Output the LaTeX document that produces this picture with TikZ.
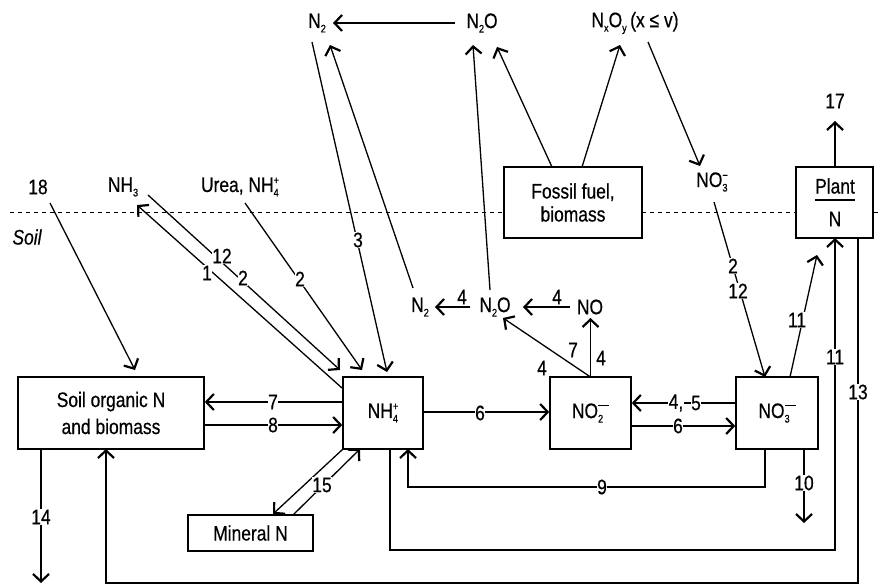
\documentclass[tikz,border=0pt]{standalone}
\usepackage{fontspec}
\setmainfont{Liberation Sans}[FakeStretch=0.83,FakeBold=0.5]
\usetikzlibrary{arrows.meta}
\newcommand\lo[1]{\raisebox{-4.5pt}{\fontsize{11}{11}\selectfont #1}}
\newcommand\hi[1]{\raisebox{8pt}{\fontsize{11}{11}\selectfont #1}}
\newcommand\wm{\raisebox{12pt}{\rule{11pt}{1.4pt}}}
\newcommand\ls[2]{\setbox0\hbox{\lo{#1}}\setbox2\hbox{#2}\ifdim\wd0>\wd2 \rlap{\box2}\box0\else\rlap{\box0}\box2\fi}
\begin{document}
\begin{tikzpicture}[x=1pt,y=-1pt,
  font=\fontsize{21}{24}\selectfont,
  bx/.style={draw,line width=1.6pt,fill=white,inner sep=0pt,align=center},
  tx/.style={inner sep=1pt},
  lbl/.style={fill=white,inner sep=0.6pt},
  ln/.style={line width=1.3pt},
  arr/.style={line width=1.3pt,-{Straight Barb[length=7.5pt,width=16pt,line width=2.2pt]}}]
\useasboundingbox (0,0) rectangle (880,585);
% soil surface
\draw[line width=1pt,dash pattern=on 4pt off 4pt] (10,213) -- (880,213);
% boxes
\node[bx,minimum width=186pt,minimum height=72pt] (som) at (111,413) {Soil organic N\\[3pt]and biomass};
\node[bx,minimum width=80pt,minimum height=72pt] (nh4) at (383,413) {NH\ls{4}{\hi{+}}};
\node[bx,minimum width=81pt,minimum height=72pt] (no2) at (590.5,413) {NO\ls{2}{\wm}};
\node[bx,minimum width=82pt,minimum height=72pt] (no3) at (777,413) {NO\ls{3}{\wm}};
\node[bx,minimum width=125pt,minimum height=36pt] (min) at (250.5,533) {Mineral N};
\node[bx,minimum width=138pt,minimum height=71pt] (fos) at (573,202.5) {Fossil fuel,\\[-1pt]biomass};
\node[bx,minimum width=77pt,minimum height=71pt] (plant) at (834.5,202.5) {};
\node[tx] (plt) at (835,186) {Plant};
\node[tx] (pn) at (835,219) {N};
\draw[line width=1.8pt] (815,200) -- (855,200);
% texts
\node[tx] (n2t) at (317,23) {N\lo{2}};
\node[tx] (n2ot) at (482,23) {N\lo{2}O};
\node[tx] (nxoy) at (635,23) {N\lo{x}O\lo{y}\,(x ≤ v)};
\node[tx] (no3t) at (712,182) {NO\ls{3}{\hi{−}}};
\node[tx] (n2m) at (420,307) {N\lo{2}};
\node[tx] (n2om) at (495,307) {N\lo{2}O};
\node[tx] (nom) at (590,307) {NO};
\node[tx] (t18) at (38,187) {18};
\node[tx] (nh3) at (123,187) {NH\lo{3}};
\node[tx] (urea) at (240,187) {Urea, NH\ls{4}{\hi{+}}};
\node[tx,font=\fontsize{21}{24}\selectfont\itshape] (soil) at (27,237) {Soil};
\node[tx] (t17) at (835,101) {17};
% connector end points
\coordinate (a1) at (312,42);  \coordinate (a2) at (387,372);
\coordinate (b1) at (413,288); \coordinate (b2) at (330,45);
\coordinate (c1) at (490,290); \coordinate (c2) at (473,45);
\coordinate (d1) at (552,167); \coordinate (d2) at (497,47);
\coordinate (e1) at (582,167); \coordinate (e2) at (620,45);
\coordinate (f1) at (648,42);  \coordinate (f2) at (700,166);
\coordinate (g1) at (714,202); \coordinate (g2) at (765,377);
\coordinate (h1) at (790,377); \coordinate (h2) at (817,255);
\coordinate (i1) at (390,449); \coordinate (i2) at (835,238);
\coordinate (j1) at (858,238); \coordinate (j2) at (106,449);
\coordinate (k1) at (41,449);  \coordinate (k2) at (41,583);
\coordinate (m1) at (804,449); \coordinate (m2) at (804,523);
\coordinate (n1) at (765,449); \coordinate (n2) at (408,449);
\coordinate (q1) at (590.5,377); \coordinate (q2) at (503,318); \coordinate (q3) at (590.5,318);
\coordinate (r1) at (50,203);  \coordinate (r2) at (135,370);
\coordinate (s1) at (342,388); \coordinate (s2) at (137,205);
\coordinate (t1) at (148,195); \coordinate (t2) at (340,370);
\coordinate (u1) at (245,203); \coordinate (u2) at (362,370);
\coordinate (v1) at (343,449); \coordinate (v2) at (273,514);
\coordinate (w1) at (293,515); \coordinate (w2) at (360,449);
\coordinate (x1) at (835,167); \coordinate (x2) at (835,121);
\coordinate (y1) at (470,307); \coordinate (y2) at (435,307);
\coordinate (z1) at (570,307); \coordinate (z2) at (523,307);
\coordinate (o1) at (455,23);  \coordinate (o2) at (333,23);
% connectors
\draw[arr] (o1) -- (o2);
\draw[arr] (a1) -- (a2);
\draw[arr] (b1) -- (b2);
\draw[arr] (c1) -- (c2);
\draw[arr] (d1) -- (d2);
\draw[arr] (e1) -- (e2);
\draw[arr] (f1) -- (f2);
\draw[arr] (g1) -- (g2);
\draw[arr] (h1) -- (h2);
\draw[arr] (i1) -- ++(0,101) -| (i2);
\draw[arr] (j1) -- ++(0,345) -| (j2);
\draw[arr] (k1) -- (k2);
\draw[arr] (m1) -- (m2);
\draw[arr] (n1) -- ++(0,38) -| (n2);
\draw[arr] ([yshift=11pt]nh4.west) -- ([yshift=11pt]som.east);
\draw[arr] ([yshift=-12pt]som.east) -- ([yshift=-12pt]nh4.west);
\draw[arr] ([yshift=1pt]nh4.east) -- ([yshift=1pt]no2.west);
\draw[arr] ([yshift=10pt]no3.west) -- ([yshift=10pt]no2.east);
\draw[arr] ([yshift=-13pt]no2.east) -- ([yshift=-13pt]no3.west);
\draw[arr] (q1) -- (q3);
\draw[arr] (q1) -- (q2);
\draw[arr] (y1) -- (y2);
\draw[arr] (z1) -- (z2);
\draw[arr] (r1) -- (r2);
\draw[arr] (s1) -- (s2);
\draw[arr] (t1) -- (t2);
\draw[arr] (u1) -- (u2);
\draw[arr] (v1) -- (v2);
\draw[arr] (w1) -- (w2);
\draw[arr] (x1) -- (x2);
% labels
\node[lbl] at (358,240) {3};
\node[lbl] at (222,256) {12};
\node[lbl] at (243,278) {2};
\node[lbl] at (207,273) {1};
\node[lbl] at (300,279) {2};
\node[lbl] at (733,266) {2};
\node[lbl] at (738,291) {12};
\node[lbl] at (797,320) {11};
\node[lbl] at (835,357) {11};
\node[lbl] at (858,392) {13};
\node[lbl] at (41,517) {14};
\node[lbl] at (804,483) {10};
\node[lbl] at (602,487) {9};
\node[lbl] at (273,402) {7};
\node[lbl] at (273,425) {8};
\node[lbl] at (480,413) {6};
\node[lbl] at (676,403) {4,};
\node[lbl] at (696,403) {5};
\node[lbl] at (678,426) {6};
\node[lbl] at (322,485) {15};
\node[tx] at (601,358) {4};
\node[tx] at (573,350) {7};
\node[tx] at (542,368) {4};
\node[tx] at (462,297) {4};
\node[tx] at (557,297) {4};
\end{tikzpicture}
\end{document}
